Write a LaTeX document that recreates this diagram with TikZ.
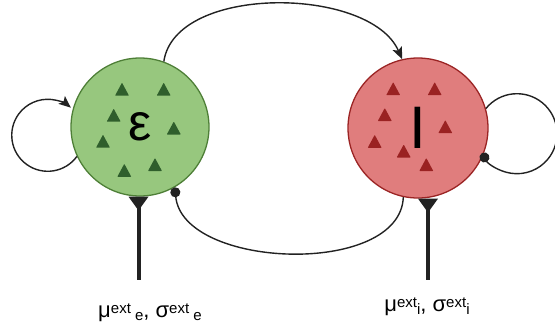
\documentclass[tikz,border=0pt]{standalone}
\usepackage{fontspec}
\setmainfont{Liberation Sans}
\usetikzlibrary{arrows.meta}
\definecolor{gfill}{HTML}{97C77E}
\definecolor{gline}{HTML}{4E7F37}
\definecolor{gtri}{HTML}{2F5E2C}
\definecolor{rfill}{HTML}{E07D7D}
\definecolor{rline}{HTML}{9B2424}
\definecolor{rtri}{HTML}{9A2222}
\definecolor{ink}{HTML}{222222}
\newcommand\supx[1]{\raisebox{4pt}{\fontsize{15}{15}\selectfont #1}}
\newcommand\subx[1]{\raisebox{-3pt}{\fontsize{15}{15}\selectfont #1}}
\begin{document}
\begin{tikzpicture}[x=1pt,y=1pt,
  pop/.style={circle, inner sep=0pt, line width=1.3pt},
  conn/.style={draw=ink, line width=1.4pt},
  tipa/.style={-{Stealth[length=12pt,width=10pt,inset=2.5pt]}},
  dotb/.style={-{Circle[length=10pt]}},
  extin/.style={draw=ink, line width=4pt, {Triangle[length=14pt,width=19pt,reversed]}-},
  tri/.pic={\fill[rounded corners=0.6pt] (-7,-6) -- (7,-6) -- (0,7) -- cycle;},
  lbl/.style={font=\fontsize{22}{22}\selectfont, inner sep=0pt, anchor=base}
]
\useasboundingbox (0,0) rectangle (555,-333);
% populations
\node[pop, fill=gfill, draw=gline, minimum size=138pt, font=\fontsize{52}{52}\selectfont] (E) at (140,-127) {ε};
\node[pop, fill=rfill, draw=rline, minimum size=140pt, font=\fontsize{60}{60}\selectfont] (I) at (418,-128) {I};
% neurons (triangles)
\begin{scope}[gtri]
\foreach \p in {(122,-89.7),(163.7,-89.7),(113.7,-115.7),(173.8,-128.5),(103,-141.7),(124.3,-170.8),(155,-165)}
  \pic[fill=gtri] at \p {tri};
\end{scope}
\begin{scope}[rtri]
\foreach \p in {(393.2,-89.2),(434.7,-89.2),(384.8,-115),(445.3,-127.2),(374.7,-141.8),(403.7,-151.5),(426.3,-165)}
  \pic[fill=rtri] at \p {tri};
\end{scope}
% connections
\draw[conn,tipa] (E.70) .. controls (175,16) and (370,14) .. (I.103);
\draw[conn,dotb] (I.-102) .. controls +(-3,-80) and +(8,-82) .. (E.-60);
\draw[conn,tipa] (E.205) arc[start angle=-36, end angle=-310, radius=36];
\draw[conn,dotb] (I.16) arc[start angle=141, end angle=-151, radius=40];
% external inputs
\coordinate (ge) at (138.5,-280);
\coordinate (gi) at (428,-280);
\draw[extin] (E.south -| ge) -- (ge);
\draw[extin] (I.south -| gi) -- (gi);
% labels
\node[lbl] (le) at (150,-317) {μ\supx{ext\ }\subx{e}, σ\supx{ext\ }\subx{e}};
\node[lbl] (li) at (427,-311) {μ\supx{ext}\subx{i}, σ\supx{ext}\subx{i}};
\end{tikzpicture}
\end{document}
